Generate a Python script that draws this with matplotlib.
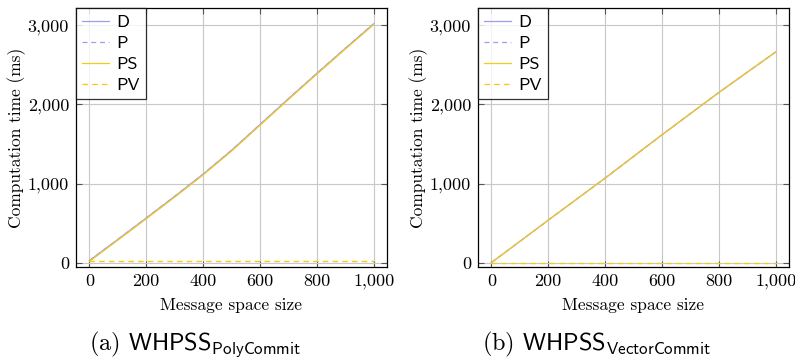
import numpy as np
import matplotlib
matplotlib.use('Agg')
import matplotlib.pyplot as plt
from matplotlib.ticker import FuncFormatter

plt.rcParams['font.family'] = 'serif'
plt.rcParams['font.serif'] = ['cmr10']
plt.rcParams['mathtext.fontset'] = 'cm'
plt.rcParams['axes.formatter.use_mathtext'] = True

# message space sizes
sizes = [0, 100, 200, 300, 400, 500, 600, 700, 800, 900, 1000]

# (a) PolyCommit
poly_D = [30, 297, 567, 840, 1120, 1420, 1745, 2070, 2390, 2705, 3015]
poly_P = [30, 297, 567, 840, 1120, 1420, 1745, 2070, 2390, 2705, 3015]
poly_PS = [20, 287, 557, 830, 1110, 1410, 1735, 2060, 2380, 2695, 3005]
poly_PV = [30, 30, 30, 30, 30, 30, 30, 30, 30, 30, 30]

# (b) VectorCommit
vec_D = [5, 272, 540, 805, 1070, 1343, 1616, 1883, 2149, 2405, 2660]
vec_P = [5, 272, 540, 805, 1070, 1343, 1616, 1883, 2149, 2405, 2660]
vec_PS = [5, 272, 540, 805, 1070, 1343, 1616, 1883, 2149, 2405, 2660]
vec_PV = [2, 2, 2, 2, 2, 2, 2, 2, 2, 2, 2]

labels = ['D', 'P', 'PS', 'PV']
captions = [r'(a) $\mathsf{WHPSS}_{\mathsf{PolyCommit}}$',
            r'(b) $\mathsf{WHPSS}_{\mathsf{VectorCommit}}$']

blue = '#9d9def'
yellow = '#f5ca1c'

fig = plt.figure(figsize=(7.95, 3.58), dpi=100)
W, H = 795, 358
boxes = [(76, 8, 387, 267), (478, 8, 789, 267)]
cap_x = [195, 597]
data = [(poly_D, poly_P, poly_PS, poly_PV), (vec_D, vec_P, vec_PS, vec_PV)]

comma = FuncFormatter(lambda v, p: '{:,}'.format(int(v)))

for (x0, y0, x1, y1), series, cap, cx in zip(boxes, data, captions, cap_x):
    ax = fig.add_axes([x0 / W, 1 - y1 / H, (x1 - x0) / W, (y1 - y0) / H])
    d, p, ps, pv = series
    ax.plot(sizes, d, color=blue, lw=0.9, label=labels[0])
    ax.plot(sizes, p, color=blue, lw=0.9, ls=(0, (4, 3)), label=labels[1])
    ax.plot(sizes, ps, color=yellow, lw=0.9, label=labels[2])
    ax.plot(sizes, pv, color=yellow, lw=1.0, ls=(0, (4, 3)), label=labels[3])

    ax.set_xlim(-47, 1047)
    ax.set_ylim(-50, 3215)
    ax.set_xticks([0, 200, 400, 600, 800, 1000])
    ax.set_yticks([0, 1000, 2000, 3000])
    ax.xaxis.set_major_formatter(comma)
    ax.yaxis.set_major_formatter(comma)
    ax.grid(True, color='#c8c8c8', lw=0.8)
    ax.set_axisbelow(True)
    ax.tick_params(direction='in', length=4, width=0.8, color='#555555',
                   top=True, right=True, labelsize=13, pad=5)
    for s in ax.spines.values():
        s.set_linewidth(0.9)
    ax.set_xlabel('Message space size', fontsize=12.5, labelpad=6)
    ax.set_ylabel('Computation time (ms)', fontsize=12.5, labelpad=1)

    leg = ax.legend(loc='upper left', frameon=True, fancybox=False,
                    edgecolor='black', borderaxespad=0, handlelength=1.5,
                    handletextpad=0.4, labelspacing=0.3, borderpad=0.35,
                    prop={'family': 'cmss10', 'size': 13})
    leg.get_frame().set_linewidth(0.9)

    fig.text(cx / W, 1 - 350 / H, cap, fontsize=17.5, ha='center', va='baseline')

fig.savefig('out.png', dpi=100)
